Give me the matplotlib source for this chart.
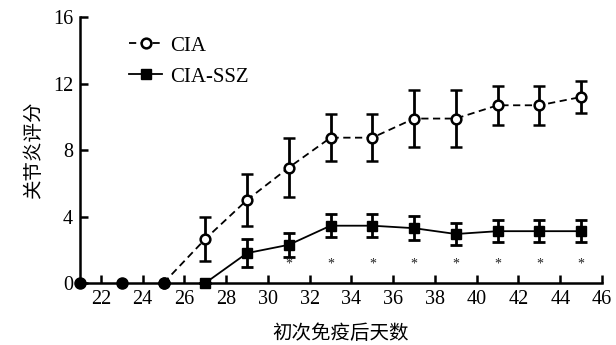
import numpy as np
import matplotlib.pyplot as plt
from matplotlib.lines import Line2D

# --- data ---
days_cia = [21, 23, 25, 27, 29, 31, 33, 35, 37, 39, 41, 43, 45]
cia_mean = [0, 0, 0, 2.65, 5.0, 6.95, 8.75, 8.75, 9.9, 9.9, 10.7, 10.7, 11.2]
cia_err = [0, 0, 0, 1.33, 1.55, 1.8, 1.42, 1.42, 1.73, 1.73, 1.16, 1.16, 0.94]

days_ssz = [27, 29, 31, 33, 35, 37, 39, 41, 43, 45]
ssz_mean = [0, 1.8, 2.3, 3.45, 3.45, 3.3, 2.95, 3.12, 3.12, 3.12]
ssz_err = [0, 0.82, 0.72, 0.7, 0.7, 0.72, 0.69, 0.68, 0.68, 0.68]

sig_days = [31, 33, 35, 37, 39, 41, 43, 45]

xticks = list(range(22, 47, 2))
yticks = [0, 4, 8, 12, 16]

SERIF = 'Liberation Serif'
CJK = ['Noto Sans CJK SC', 'DejaVu Sans']

fig = plt.figure(figsize=(6.16, 3.45), dpi=100)
ax = fig.add_axes([0.1299, 0.1797, 0.8474, 0.7703])

cia_style = dict(color='black', ls=(0, (4, 2.5)), lw=1.3, marker='o', ms=7,
                 mfc='white', mec='black', mew=1.8)
ssz_style = dict(color='black', ls='-', lw=1.3, marker='s', ms=6.5,
                 mfc='black', mec='black')

n_pre = 3  # days before onset, drawn as filled dots
ax.errorbar(days_cia[n_pre - 1:], cia_mean[n_pre - 1:], yerr=cia_err[n_pre - 1:],
            elinewidth=2, capsize=4, capthick=2, clip_on=False, zorder=3,
            **cia_style)
ax.plot(days_cia[:n_pre], cia_mean[:n_pre], 'o', color='black', ms=8,
        clip_on=False, zorder=4)

ax.errorbar(days_ssz, ssz_mean, yerr=ssz_err, elinewidth=2, capsize=4,
            capthick=2, clip_on=False, zorder=3, **ssz_style)

for d in sig_days:
    ax.text(d, 1.15, '*', ha='center', va='center', fontsize=10,
            family=SERIF, color='#222222')

ax.set_xlim(21, 46)
ax.set_ylim(0, 16)
ax.set_xticks(xticks)
ax.set_yticks(yticks)
for s in ['top', 'right']:
    ax.spines[s].set_visible(False)
for s in ['left', 'bottom']:
    ax.spines[s].set_linewidth(1.8)
ax.tick_params(direction='in', length=6, width=1.8, labelsize=14.5, pad=5)
for lab in ax.get_xticklabels() + ax.get_yticklabels():
    lab.set_family(SERIF)

ax.set_xlabel('初次免疫后天数', family=CJK, fontsize=14, labelpad=10)
ax.set_ylabel('关节炎评分', family=CJK, fontsize=14, labelpad=6)

handles = [Line2D([], [], **cia_style), Line2D([], [], **ssz_style)]
ax.legend(handles, ['CIA', 'CIA-SSZ'], loc='upper left',
          bbox_to_anchor=(0.058, 1.0), frameon=False,
          prop={'family': SERIF, 'size': 15}, handlelength=1.6,
          handletextpad=0.35, labelspacing=0.55)

fig.savefig('out.png', dpi=100)
